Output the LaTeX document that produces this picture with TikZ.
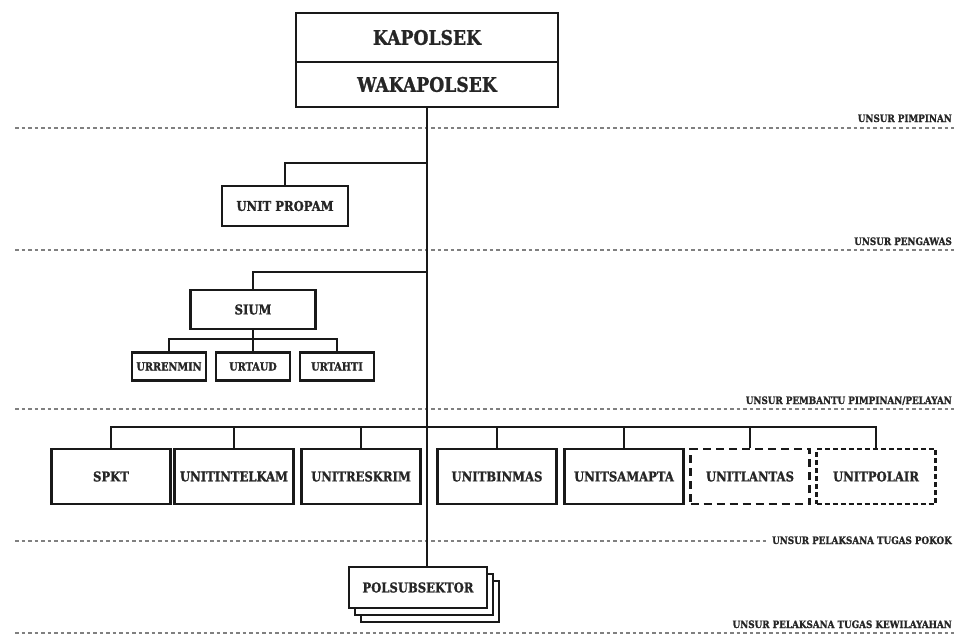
\documentclass[tikz,border=0pt]{standalone}
\usepackage{fontspec}
\newfontfamily\orgfont{DejaVu Serif}[FakeStretch=0.86,BoldFeatures={FakeBold=1.2}]
\begin{document}
\begin{tikzpicture}[x=1pt,y=-1pt,
  box/.style={draw=black!90, line width=2.2pt, fill=white, inner sep=0pt,
    text=black!85, font=\orgfont\bfseries\fontsize{13.5}{15}\selectfont},
  bigbox/.style={box, font=\orgfont\bfseries\fontsize{20}{22}\selectfont},
  smallbox/.style={box, minimum width=74, minimum height=28,
    font=\orgfont\bfseries\fontsize{11.3}{13}\selectfont},
  unitbox/.style={box, minimum width=119, minimum height=55},
  conn/.style={draw=black!90, line width=2pt},
  sep/.style={draw=black!50, line width=1.4pt, dash pattern=on 3.5pt off 3pt},
  lab/.style={anchor=base east, inner sep=0pt, text=black!85,
    font=\orgfont\bfseries\fontsize{10.2}{12}\selectfont}
]
\useasboundingbox (0,0) rectangle (954,634);

% separator lines
\draw[sep] (15,128) -- (954,128);
\draw[sep] (15,250) -- (954,250);
\draw[sep] (15,409) -- (954,409);
\draw[sep] (15,541) -- (766,541);
\draw[sep] (15,633) -- (954,633);

% level labels
\node[lab] (l1) at (952,122) {UNSUR PIMPINAN};
\node[lab] (l2) at (952,245) {UNSUR PENGAWAS};
\node[lab] (l3) at (952,404) {UNSUR PEMBANTU PIMPINAN/PELAYAN};
\node[lab] (l4) at (952,544) {UNSUR PELAKSANA TUGAS POKOK};
\node[lab] (l5) at (952,628) {UNSUR PELAKSANA TUGAS KEWILAYAHAN};

% top
\node[bigbox, minimum width=262, minimum height=49] (kap) at (427,37.5) {KAPOLSEK};
\node[bigbox, minimum width=262, minimum height=45] (wak) at (427,84.5) {WAKAPOLSEK};

% coordinates on the spine
\coordinate (j1) at (427,163);
\coordinate (j2) at (427,272);
\coordinate (j3) at (427,427);
\coordinate (b1) at (253,339);

% POLSUBSEKTOR stack
\node[box, minimum width=138, minimum height=41] (pol3) at (430,601.5) {};
\node[box, minimum width=138, minimum height=41] (pol2) at (424,594.5) {};
\node[box, minimum width=138, minimum height=41] (pol) at (418,587.5) {POLSUBSEKTOR};

% spine
\draw[conn] (wak.south) -- (wak.south |- pol.north);

% pengawas
\node[box, minimum width=126, minimum height=40] (pro) at (285,206) {UNIT PROPAM};
\draw[conn] (j1) -| (pro.north);

% SIUM
\node[box, minimum width=125, minimum height=39] (siu) at (253,309.5) {SIUM};
\draw[conn] (j2) -| (siu.north);
\node[smallbox] (urr) at (169,366.5) {URRENMIN};
\node[smallbox] (urt) at (253,366.5) {URTAUD};
\node[smallbox] (urh) at (337,366.5) {URTAHTI};
\draw[conn] (siu.south) -- (urt.north);
\draw[conn] (urr.north) |- (b1) -| (urh.north);

% pelaksana tugas pokok
\node[unitbox] (spkt) at (111,476.5) {SPKT};
\node[unitbox] (intel) at (234,476.5) {UNITINTELKAM};
\node[unitbox] (res) at (361,476.5) {UNITRESKRIM};
\node[unitbox] (bin) at (497,476.5) {UNITBINMAS};
\node[unitbox] (sam) at (624,476.5) {UNITSAMAPTA};
\node[unitbox, dash pattern=on 8pt off 5pt] (lan) at (750,476.5) {UNITLANTAS};
\node[unitbox, dash pattern=on 5pt off 3pt] (pola) at (876,476.5) {UNITPOLAIR};
\draw[conn] (spkt.north) |- (j3) -| (pola.north);
\foreach \n in {intel,res,bin,sam,lan}
  \draw[conn] (\n.north) -- (\n.north |- j3);
\end{tikzpicture}
\end{document}
